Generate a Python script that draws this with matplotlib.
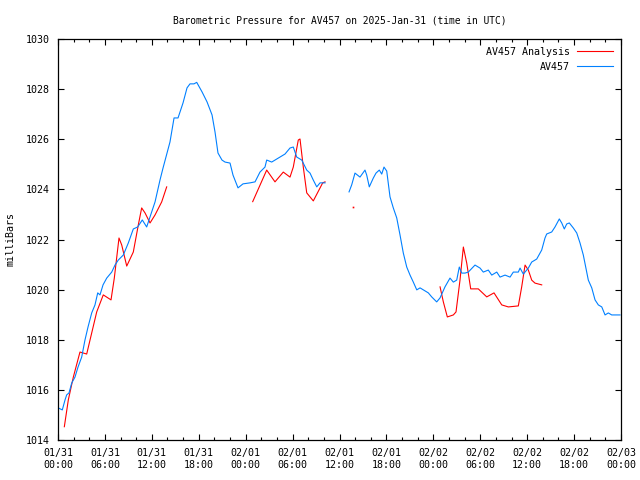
import numpy as np
import pandas as pd
import matplotlib
matplotlib.use("Agg")
from matplotlib import pyplot as plt
import matplotlib.dates as mdates

# hours since 2025-01-31 00:00 UTC, pressure in mb (nan = gap)
blue_hours = [0.04, 0.55, 0.90, 1.11, 1.41, 1.75, 2.17, 2.56, 3.03, 3.45, 3.84, 4.31, 4.73, 5.08,
              5.37, 5.76, 6.23, 6.87, 7.29, 7.71, 8.35, 8.99, 9.63, 10.19, 10.78, 11.34, 11.77,
              12.41, 13.05, 13.43, 14.32, 14.84, 15.35, 15.99, 16.50, 16.88, 17.39, 17.74, 18.42,
              19.06, 19.70, 20.08, 20.46, 20.97, 21.36, 22.00, 22.38, 23.02, 23.66, 24.56, 25.20,
              25.83, 26.47, 26.69, 27.33, 27.75, 28.39, 29.03, 29.67, 30.09, 30.53, 31.17, 31.81,
              32.23, 32.65, 33.09, 33.51, 34.15, 35.5,
              37.22, 37.56, 37.98, 38.62, 39.26, 39.48, 39.81, 40.32, 40.67, 41.09, 41.40, 41.69,
              42.04, 42.46, 42.88, 43.32, 43.74, 44.16, 44.60, 45.02, 45.44, 45.88, 46.30, 46.72,
              47.36, 47.79, 48.43, 48.86, 49.49, 50.13, 50.56, 50.99, 51.32, 51.63, 52.05, 52.47,
              53.33, 53.97, 54.39, 55.03, 55.47, 56.11, 56.53, 57.17, 57.81, 58.23, 58.87, 59.09,
              59.51, 60.15, 60.58, 61.22, 61.86, 62.28, 62.50, 63.14, 63.56, 64.11, 64.42, 64.75,
              65.06, 65.39, 65.90, 66.34, 66.76, 67.18, 67.82, 68.26, 68.68, 69.10, 69.54, 69.96,
              70.38, 70.81, 71.87]
blue_mb = [1015.28, 1015.20, 1015.60, 1015.80, 1015.88, 1016.27, 1016.51, 1016.91, 1017.31, 1017.99,
           1018.51, 1019.07, 1019.39, 1019.87, 1019.79, 1020.19, 1020.46, 1020.70, 1020.98, 1021.18,
           1021.38, 1021.86, 1022.42, 1022.50, 1022.78, 1022.50, 1022.90, 1023.50, 1024.38, 1024.85,
           1025.89, 1026.85, 1026.85, 1027.45, 1028.05, 1028.21, 1028.21, 1028.27, 1027.89, 1027.49,
           1026.97, 1026.29, 1025.45, 1025.17, 1025.09, 1025.05, 1024.57, 1024.06, 1024.22, 1024.26,
           1024.30, 1024.69, 1024.89, 1025.17, 1025.09, 1025.17, 1025.29, 1025.41, 1025.65, 1025.69,
           1025.29, 1025.17, 1024.77, 1024.65, 1024.37, 1024.10, 1024.26, 1024.26, np.nan,
           1023.90, 1024.18, 1024.65, 1024.49, 1024.77, 1024.57, 1024.10, 1024.45, 1024.65, 1024.77,
           1024.61, 1024.89, 1024.73, 1023.70, 1023.26, 1022.86, 1022.18, 1021.46, 1020.90, 1020.58,
           1020.30, 1019.99, 1020.07, 1019.99, 1019.87, 1019.71, 1019.51, 1019.67, 1020.11, 1020.46,
           1020.30, 1020.38, 1020.90, 1020.66, 1020.66, 1020.70, 1020.98, 1020.86, 1020.70, 1020.78,
           1020.58, 1020.70, 1020.50, 1020.58, 1020.50, 1020.70, 1020.70, 1020.86, 1020.62, 1020.86,
           1021.10, 1021.22, 1021.58, 1022.06, 1022.22, 1022.30, 1022.50, 1022.82, 1022.66, 1022.42,
           1022.62, 1022.66, 1022.46, 1022.26, 1021.86, 1021.38, 1020.38, 1020.07, 1019.59, 1019.39,
           1019.31, 1018.99, 1019.07, 1018.99, 1018.99]

red_hours = [0.81, 1.32, 1.96, 2.81, 3.67, 4.31, 4.95, 5.79, 6.78, 7.20, 7.80, 8.15, 8.79, 9.63,
             10.27, 10.70, 11.13, 11.77, 12.41, 13.26, 13.90, 19.0,
             24.90, 26.69, 27.75, 28.81, 29.67, 30.09, 30.73, 30.95, 31.37, 31.81, 32.65, 33.85,
             34.15, 36.0, 37.77, 43.0,
             48.86, 49.28, 49.79, 50.56, 50.90, 51.41, 51.84, 52.27, 52.78, 53.75, 54.83, 55.76,
             56.75, 57.59, 58.87, 59.30, 59.73, 60.15, 60.58, 61.00, 61.86]
red_mb = [1014.53, 1015.60, 1016.51, 1017.51, 1017.43, 1018.27, 1019.11, 1019.79, 1019.59, 1020.46,
          1022.06, 1021.78, 1020.94, 1021.50, 1022.58, 1023.26, 1023.06, 1022.66, 1022.98, 1023.50,
          1024.10, np.nan,
          1023.51, 1024.77, 1024.30, 1024.69, 1024.49, 1024.89, 1025.97, 1026.01, 1024.89, 1023.86,
          1023.54, 1024.26, 1024.30, np.nan, 1023.29, np.nan,
          1020.11, 1019.51, 1018.91, 1018.99, 1019.11, 1020.38, 1021.70, 1021.06, 1020.03, 1020.03,
          1019.71, 1019.87, 1019.39, 1019.31, 1019.35, 1020.11, 1020.98, 1020.78, 1020.38, 1020.26,
          1020.19]

start = pd.Timestamp("2025-01-31 00:00")


def to_time(hours):
    return start + pd.to_timedelta(np.array(hours), unit="h")


plt.rcParams["font.family"] = "DejaVu Sans Mono"
plt.rcParams["font.size"] = 7.2

fig = plt.figure(figsize=(6.4, 4.8), dpi=100)
ax = fig.add_axes([58 / 640, 40 / 480, 563 / 640, 401 / 480])

red_t = to_time(red_hours)
blue_t = to_time(blue_hours)
ax.plot(red_t, red_mb, color="#ff0000", lw=0.8, label="AV457 Analysis")
ax.plot(blue_t, blue_mb, color="#0080ff", lw=0.8, label="AV457")

# isolated red samples would not show as a line
r = np.array(red_mb)
for i in range(len(r)):
    prev_nan = i == 0 or np.isnan(r[i - 1])
    next_nan = i == len(r) - 1 or np.isnan(r[i + 1])
    if not np.isnan(r[i]) and prev_nan and next_nan:
        ax.plot(red_t[i], r[i], "s", color="#ff0000", ms=1.2, mew=0)

ax.set_xlim(start, start + pd.Timedelta(hours=72))
ax.set_ylim(1014, 1030)
ax.set_yticks(np.arange(1014, 1031, 2))
ax.xaxis.set_major_locator(mdates.HourLocator(byhour=[0, 6, 12, 18]))
ax.xaxis.set_minor_locator(mdates.HourLocator(interval=2))
ax.xaxis.set_major_formatter(mdates.DateFormatter("%m/%d\n%H:%M"))

ax.tick_params(which="both", direction="in", top=True, right=True, width=0.8)
ax.tick_params(which="major", length=4.5, pad=6)
ax.tick_params(which="minor", length=2.5)
for s in ax.spines.values():
    s.set_linewidth(0.9)

ax.set_ylabel("milliBars", labelpad=7)
ax.set_title("Barometric Pressure for AV457 on 2025-Jan-31 (time in UTC)",
             fontsize=6.9, pad=11)
ax.legend(loc="upper right", frameon=False, markerfirst=False, handlelength=3.6,
          borderaxespad=0.4, labelspacing=0.5, handletextpad=0.7)

fig.savefig("out.png", dpi=100)
